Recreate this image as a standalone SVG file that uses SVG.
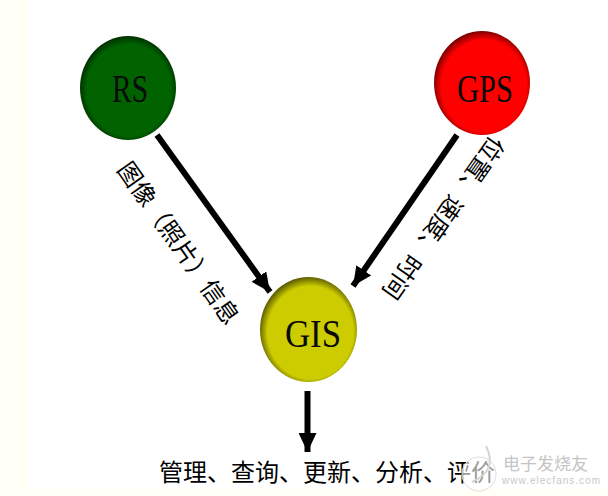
<svg xmlns="http://www.w3.org/2000/svg" width="608" height="496" viewBox="0 0 608 496">
<style>
.lbl{font-family:"Noto Sans CJK SC","Liberation Serif",serif;font-size:24px;fill:#000;text-anchor:middle;dominant-baseline:central}
.cap{font-family:"Noto Sans CJK SC","Liberation Serif",serif;font-size:24px;fill:#000}
.nm{font-family:"Liberation Serif",serif;font-size:41px;fill:#0a0a0a}
.ln{stroke:#000;stroke-width:6;fill:none;marker-end:url(#ah)}
.b{filter:url(#soft)}
</style>
<defs>
<filter id="soft" x="-5%" y="-5%" width="110%" height="110%"><feGaussianBlur stdDeviation="0.7"/></filter>
<radialGradient id="gG" cx="51%" cy="52%" r="52%"><stop offset="0.84" stop-color="#006400"/><stop offset="1" stop-color="#003000"/></radialGradient>
<radialGradient id="gR" cx="52%" cy="53%" r="54%"><stop offset="0.82" stop-color="#ff0000"/><stop offset="1" stop-color="#700000"/></radialGradient>
<radialGradient id="gY" cx="52%" cy="53%" r="54%"><stop offset="0.82" stop-color="#cccc00"/><stop offset="1" stop-color="#505000"/></radialGradient>
<marker id="ah" markerUnits="userSpaceOnUse" markerWidth="20" markerHeight="18" refX="19" refY="9" orient="auto"><path d="M0 0L19 9L0 18Z" fill="#000"/></marker>
</defs>
<rect width="608" height="496" fill="#fff"/>
<rect width="28" height="496" fill="#fffff6"/>
<rect y="488" width="608" height="8" fill="#fffff6"/>
<g id="connectors">
<path class="ln" d="M157 135L270 292"/>
<path class="ln" d="M457 135L353 286"/>
<path class="ln" d="M307.500 391V452"/>
</g>
<g id="rs"><ellipse class="b" cx="128" cy="88" rx="48" ry="52" fill="url(#gG)"/><text class="nm" x="112" y="102" textLength="36" lengthAdjust="spacingAndGlyphs">RS</text></g>
<g id="gps"><ellipse class="b" cx="482" cy="83" rx="48" ry="52" fill="url(#gR)"/><text class="nm" x="457" y="102" textLength="56" lengthAdjust="spacingAndGlyphs">GPS</text></g>
<g id="gis"><ellipse class="b" cx="308.500" cy="329.500" rx="48.500" ry="52.500" fill="url(#gY)"/><text class="nm" x="285" y="347" textLength="56" lengthAdjust="spacingAndGlyphs">GIS</text></g>
<g id="labels">
<text class="lbl" transform="translate(180,242) rotate(55)">图像（照片）信息</text>
<text class="lbl" transform="translate(445,219) rotate(125)">位置、速度、时间</text>
<text class="cap" x="159" y="481">管理、查询、更新、分析、评价</text>
</g>
<g id="watermark">
<circle cx="479" cy="474" r="17" fill="#fff" fill-opacity="0.6" stroke="#ddd" stroke-width="1"/>
<path d="M486 446C494 462 490 474 472 482" fill="none" stroke="#d4d4d4" stroke-width="2"/>
<text x="503" y="470" font-size="17" fill="#c4c4c4" font-family="Noto Sans CJK SC,sans-serif">电子发烧友</text>
<text x="502" y="484" font-size="10" textLength="98" fill="#c8c8c8" font-family="Liberation Sans,sans-serif">www.elecfans.com</text>
</g>
</svg>
